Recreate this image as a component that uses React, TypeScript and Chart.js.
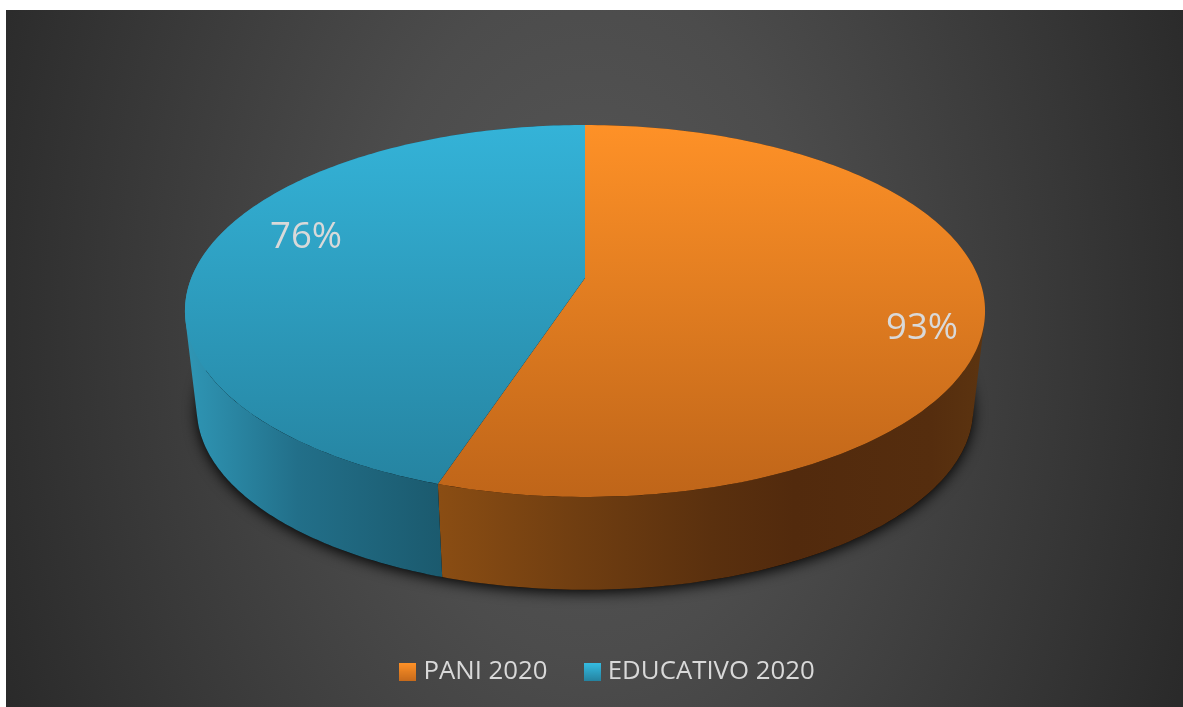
import React, { useEffect, useRef } from "react";
import { Chart, registerables } from "chart.js";

Chart.register(...registerables);

const categories = ["PANI 2020", "EDUCATIVO 2020"];
const seriesValues = [93, 76];
const labelCentres = [[922, 329], [306, 238]];

const topFaceColours = [["#fe9127", "#bf6519"], ["#34b3d8", "#25829f"]];
const wallColours = [
  [[0, "#8a4d13"], [0.25, "#703e11"], [0.5, "#5a300e"], [0.65, "#522a0d"], [0.9, "#552d0e"], [1, "#5c3410"]],
  [[0, "#2f96b5"], [0.14, "#226f89"], [0.32, "#1b5a6e"], [1, "#1b5a6e"]],
];

const CX = 585;
const K = -0.1774;
const TOP = { y0: 278, a: 393.7, b: 180.1 };
const LOW = { y0: 377, a: 382, b: 175 };

function project(p: { y0: number; a: number; b: number }, theta: number) {
  const u = Math.sin(theta);
  const v = -Math.cos(theta);
  const w = 1 + K * v;
  return [CX + (p.a * u) / w, p.y0 + (p.b * v) / w];
}

function rim(ctx: CanvasRenderingContext2D, p: any, from: number, to: number, first: boolean) {
  const steps = 180;
  for (let i = 0; i <= steps; i++) {
    const [x, y] = project(p, from + ((to - from) * i) / steps);
    if (i === 0 && first) ctx.moveTo(x, y);
    else ctx.lineTo(x, y);
  }
}

// The wall as one path of small quads, all wound the same way, so no part cancels out.
function wallPath(ctx: CanvasRenderingContext2D, from: number, to: number) {
  const steps = 240;
  ctx.beginPath();
  for (let i = 0; i < steps; i++) {
    const t0 = from + ((to - from) * i) / steps;
    const t1 = from + ((to - from) * (i + 1)) / steps;
    const q = [project(TOP, t0), project(TOP, t1), project(LOW, t1), project(LOW, t0)];
    let area = 0;
    q.forEach((a, j) => {
      const b = q[(j + 1) % 4];
      area += a[0] * b[1] - b[0] * a[1];
    });
    const pts = area < 0 ? q.slice().reverse() : q;
    ctx.moveTo(pts[0][0], pts[0][1]);
    pts.slice(1).forEach((pt) => ctx.lineTo(pt[0], pt[1]));
    ctx.closePath();
  }
}

const backgroundPlugin = {
  id: "darkBackground",
  beforeDraw(chart: any) {
    const ctx = chart.ctx;
    ctx.save();
    ctx.beginPath();
    ctx.rect(6, 10, 1177, 697);
    ctx.clip();
    ctx.translate(590, 320);
    ctx.scale(1, 1.5);
    const g = ctx.createRadialGradient(0, 0, 0, 0, 0, 640);
    g.addColorStop(0, "#575757");
    g.addColorStop(0.35, "#4c4c4c");
    g.addColorStop(1, "#2a2a2a");
    ctx.fillStyle = g;
    ctx.fillRect(-800, -600, 1600, 1200);
    ctx.restore();
  },
};

const pie3dPlugin = {
  id: "pie3d",
  afterDatasetsDraw(chart: any) {
    const ctx: CanvasRenderingContext2D = chart.ctx;
    const arcs = chart.getDatasetMeta(0).data;
    const span = (arc: any) => [arc.startAngle + Math.PI / 2, arc.endAngle + Math.PI / 2];

    // ground shadow
    ctx.save();
    ctx.shadowColor = "rgba(0,0,0,0.95)";
    ctx.shadowBlur = 14;
    ctx.shadowOffsetY = 3;
    ctx.fillStyle = "#000";
    ctx.beginPath();
    rim(ctx, LOW, 0, Math.PI * 2, true);
    ctx.closePath();
    ctx.fill();
    ctx.restore();

    // side walls
    arcs.forEach((arc: any, i: number) => {
      const [s, e] = span(arc);
      const g = ctx.createLinearGradient(i === 0 ? 440 : 186, 0, 985, 0);
      wallColours[i].forEach(([o, c]) => g.addColorStop(o as number, c as string));
      ctx.fillStyle = g;
      wallPath(ctx, s, e);
      ctx.fill();
    });

    // top faces
    arcs.forEach((arc: any, i: number) => {
      const [s, e] = span(arc);
      const g = ctx.createLinearGradient(0, 125, 0, 497);
      g.addColorStop(0, topFaceColours[i][0]);
      g.addColorStop(1, topFaceColours[i][1]);
      ctx.fillStyle = g;
      ctx.beginPath();
      ctx.moveTo(CX, TOP.y0);
      rim(ctx, TOP, s, e, false);
      ctx.closePath();
      ctx.fill();
    });

    // data labels
    ctx.save();
    ctx.font = '36.6px "Open Sans"';
    ctx.fillStyle = "#d9d9d9";
    ctx.textAlign = "center";
    ctx.textBaseline = "middle";
    seriesValues.forEach((v, i) => ctx.fillText(`${v}%`, labelCentres[i][0], labelCentres[i][1]));
    ctx.restore();
  },
};

function legendSwatch(i: number) {
  const c = document.createElement("canvas");
  c.width = 17;
  c.height = 18;
  const x = c.getContext("2d")!;
  const g = x.createLinearGradient(0, 0, 0, 18);
  g.addColorStop(0, i === 0 ? "#fe9127" : "#35bce2");
  g.addColorStop(1, i === 0 ? "#c66a1b" : "#25829f");
  x.fillStyle = g;
  x.fillRect(0, 0, 17, 18);
  return c;
}

export default function App() {
  const ref = useRef<HTMLCanvasElement>(null);
  useEffect(() => {
    const chart = new Chart(ref.current!, {
      type: "pie",
      data: {
        labels: categories,
        datasets: [{ data: seriesValues, backgroundColor: "rgba(0,0,0,0)", borderWidth: 0 }],
      },
      options: {
        responsive: false,
        animation: false,
        layout: { padding: { left: 37, bottom: 12 } },
        plugins: {
          tooltip: { enabled: false },
          legend: {
            position: "bottom",
            labels: {
              usePointStyle: true,
              pointStyleWidth: 5.3,
              padding: 42,
              color: "#d9d9d9",
              font: { family: '"Open Sans"', size: 25.8 },
              generateLabels: () =>
                categories.map((text, i) => ({
                  text,
                  pointStyle: legendSwatch(i),
                  fontColor: "#d9d9d9",
                  lineWidth: 0,
                  strokeStyle: "rgba(0,0,0,0)",
                  fillStyle: "rgba(0,0,0,0)",
                  hidden: false,
                  index: i,
                })),
            },
          },
        },
      },
      plugins: [backgroundPlugin, pie3dPlugin],
    } as any);
    return () => chart.destroy();
  }, []);
  return (
    <canvas
      ref={ref}
      width={1183}
      height={707}
      style={{ position: "absolute", left: 0, top: 0, width: 1183, height: 707, display: "block" }}
    />
  );
}
